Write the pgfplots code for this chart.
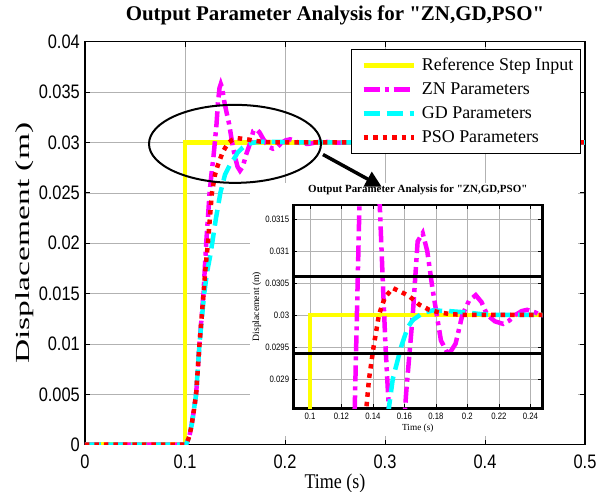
\documentclass[border=0pt]{standalone}
\usepackage{fontspec}
\setmainfont{Liberation Serif}
\newfontfamily\sansv[FakeStretch=0.84]{Liberation Sans}
\newfontfamily\serifv[FakeStretch=0.86]{Liberation Serif}
\newfontfamily\serifl[FakeStretch=1.68]{Liberation Serif}
\usepackage{pgfplots}
\pgfplotsset{compat=1.18}
\usetikzlibrary{arrows.meta}

\definecolor{cYel}{RGB}{255,255,0}
\definecolor{cMag}{RGB}{255,0,255}
\definecolor{cCya}{RGB}{0,255,255}
\definecolor{cRed}{RGB}{255,0,0}

% time (s), displacement (m)
\pgfplotstableread{
t y
0 0
0.1 0
0.1 0.03
0.5 0.03
}\refdata

\pgfplotstableread{
t y
0 0
0.100 0
0.102 0.0002
0.1045 0.0009
0.1067 0.002
0.109 0.0035
0.1111 0.005
0.1128 0.0075
0.1145 0.010
0.1165 0.0125
0.1185 0.015
0.1198 0.0175
0.1212 0.020
0.1229 0.0225
0.1246 0.025
0.1266 0.027
0.1284 0.0285
0.1300 0.0302
0.1315 0.0318
0.1330 0.0340
0.1345 0.0354
0.1358 0.0358
0.1372 0.0354
0.1390 0.0342
0.1415 0.0330
0.1442 0.0318
0.1463 0.0305
0.1480 0.0295
0.1501 0.02854
0.1525 0.0276
0.1550 0.0272
0.1578 0.0276
0.1611 0.02878
0.1653 0.0300
0.1684 0.03115
0.1716 0.03128
0.1745 0.0310
0.1779 0.0304
0.1832 0.0296
0.1880 0.029375
0.1925 0.02955
0.1968 0.0300
0.2010 0.03022
0.2053 0.03031
0.2090 0.03020
0.2126 0.0300
0.2175 0.02990
0.2227 0.02986
0.2265 0.02991
0.2305 0.0300
0.2345 0.03006
0.2379 0.03008
0.2430 0.03004
0.2470 0.02999
0.2550 0.02997
0.2630 0.03001
0.2800 0.0300
0.5 0.0300
}\zndata

\pgfplotstableread{
t y
0 0
0.100 0
0.102 0.0002
0.1045 0.0009
0.1067 0.002
0.109 0.0035
0.1111 0.005
0.1128 0.0075
0.1145 0.010
0.1168 0.0125
0.1192 0.0150
0.1222 0.0172
0.1253 0.0188
0.1272 0.0200
0.1310 0.0225
0.1354 0.0250
0.1400 0.0268
0.1450 0.0278
0.1501 0.02854
0.1526 0.0290
0.1579 0.0295
0.1620 0.0298
0.1653 0.02992
0.1716 0.03003
0.1779 0.03007
0.1884 0.03006
0.1989 0.03004
0.2095 0.03001
0.2200 0.0300
0.5 0.0300
}\gddata

\pgfplotstableread{
t y
0 0
0.100 0
0.102 0.0002
0.1045 0.0009
0.1067 0.002
0.109 0.0035
0.1111 0.005
0.1128 0.0075
0.1145 0.010
0.1165 0.0125
0.1185 0.015
0.1205 0.0175
0.1229 0.0200
0.1249 0.0225
0.1269 0.0250
0.1300 0.0268
0.1330 0.0278
0.1358 0.02854
0.1375 0.0290
0.1404 0.0295
0.1438 0.0300
0.1475 0.03027
0.1526 0.03042
0.1579 0.03036
0.1632 0.03029
0.1695 0.03016
0.1758 0.03008
0.1821 0.03004
0.1900 0.03001
0.2000 0.0300
0.5 0.0300
}\psodata

\pgfplotsset{
  refline/.style={cYel, line width=4.5bp},
  znline/.style={cMag, line width=4.5bp, dash pattern=on 16bp off 5bp on 4bp off 5bp},
  gdline/.style={cCya, line width=4.5bp, dash pattern=on 16bp off 7bp},
  psoline/.style={cRed, line width=4.5bp, dash pattern=on 4.5bp off 5bp},
}

\begin{document}
\begin{tikzpicture}
\begin{axis}[
  at={(0,0)}, anchor=south west,
  scale only axis, width=500bp, height=403bp,
  xmin=0, xmax=0.5, ymin=0, ymax=0.04,
  xtick={0,0.1,0.2,0.3,0.4,0.5},
  ytick={0,0.005,0.01,0.015,0.02,0.025,0.03,0.035,0.04},
  scaled ticks=false,
  /pgf/number format/fixed, /pgf/number format/precision=4,
  /pgf/number format/assume math mode=true,
  tick label style={font=\fontsize{19.6}{20}\sansv},
  xticklabel style={anchor=north, inner sep=0pt, yshift=-10bp},
  yticklabel style={anchor=east, inner sep=0pt, xshift=-5bp},
  tick align=inside, major tick length=5bp,
  tick style={black, line width=0.8bp},
  grid=major, major grid style={gray!60, line width=0.6bp},
  axis line style={line width=1.5bp},
  title={Output Parameter Analysis for \textquotedbl ZN,GD,PSO\textquotedbl},
  title style={font=\fontsize{21}{21}\selectfont\bfseries, at={(axis description cs:0.5,1.0372)}, anchor=base, inner sep=0pt},
  xlabel={Time (s)},
  xlabel style={font=\fontsize{21}{21}\serifv, at={(axis description cs:0.5,-0.109)}, anchor=base, inner sep=0pt},
  ylabel={Displacement (m)},
  ylabel style={font=\fontsize{20}{20}\serifl, at={(axis description cs:-0.11,0.5)}, anchor=base, inner sep=0pt},
  legend style={at={(rel axis cs:0.9914,0.9811)}, anchor=north east, draw=black, line width=0.8bp,
    fill=white, font=\fontsize{18}{18}\selectfont, inner sep=4bp, row sep=0bp,
    nodes={inner xsep=3bp, inner ysep=3bp, text height=14bp, text depth=4bp}},
  legend cell align=left,
  legend image code/.code={\path (-6bp,0bp) (53bp,0bp); \draw[#1] (0bp,0bp) -- (50bp,0bp);},
]
\addplot[refline] table[x=t, y=y] {\refdata};
\addlegendentry{Reference Step Input}
\addplot[znline] table[x=t, y=y] {\zndata};
\addlegendentry{ZN Parameters}
\addplot[gdline] table[x=t, y=y] {\gddata};
\addlegendentry{GD Parameters}
\addplot[psoline] table[x=t, y=y] {\psodata};
\addlegendentry{PSO Parameters}
\fill[white] (axis cs:0.165,0.0009) rectangle (axis cs:0.4935,0.0260);
\draw[black, line width=2bp] (axis cs:0.150,0.02986) ellipse [x radius=86bp, y radius=39bp];
\draw[black, line width=3.5bp, -{Triangle[length=16bp, width=16bp]}] (axis cs:0.238,0.0288) -- (axis cs:0.2967,0.0256);
\end{axis}

\begin{axis}[
  at={(208.3bp,36.4bp)}, anchor=south west,
  scale only axis, width=249bp, height=203.3bp,
  xmin=0.0894, xmax=0.2476, ymin=0.02854, ymax=0.03172,
  xtick={0.1,0.12,0.14,0.16,0.18,0.2,0.22,0.24},
  ytick={0.029,0.0295,0.03,0.0305,0.031,0.0315},
  scaled ticks=false,
  /pgf/number format/fixed, /pgf/number format/precision=4,
  /pgf/number format/assume math mode=true,
  tick label style={font=\fontsize{9.3}{9.3}\sansv},
  xticklabel style={anchor=north, inner sep=0pt, yshift=-5bp},
  yticklabel style={anchor=east, inner sep=0pt, xshift=-4bp},
  tick align=inside, major tick length=4bp,
  tick style={black, line width=0.7bp},
  grid=major, major grid style={gray!60, line width=0.6bp},
  axis line style={line width=2.5bp},
  title={Output Parameter Analysis for \textquotedbl ZN,GD,PSO\textquotedbl},
  title style={font=\fontsize{11}{11}\selectfont\bfseries, at={(axis description cs:0.5,1.03)}, anchor=base, inner sep=0pt},
  xlabel={Time (s)},
  xlabel style={font=\fontsize{9.3}{9.3}\selectfont, at={(axis description cs:0.5,-0.107)}, anchor=base, inner sep=0pt},
  ylabel={Displacement (m)},
  ylabel style={font=\fontsize{9.7}{9.7}\selectfont, at={(axis description cs:-0.137,0.5)}, anchor=base, inner sep=0pt},
]
\addplot[refline] table[x=t, y=y] {\refdata};
\addplot[znline] table[x=t, y=y] {\zndata};
\addplot[gdline] table[x=t, y=y] {\gddata};
\addplot[psoline] table[x=t, y=y] {\psodata};
\addplot[black, line width=3bp] coordinates {(0.0894,0.0306) (0.2476,0.0306)};
\addplot[black, line width=3bp] coordinates {(0.0894,0.0294) (0.2476,0.0294)};
\end{axis}
\pgfresetboundingbox
\path[use as bounding box] (-85bp,-47.3bp) rectangle (518bp,444.7bp);
\end{tikzpicture}
\end{document}
